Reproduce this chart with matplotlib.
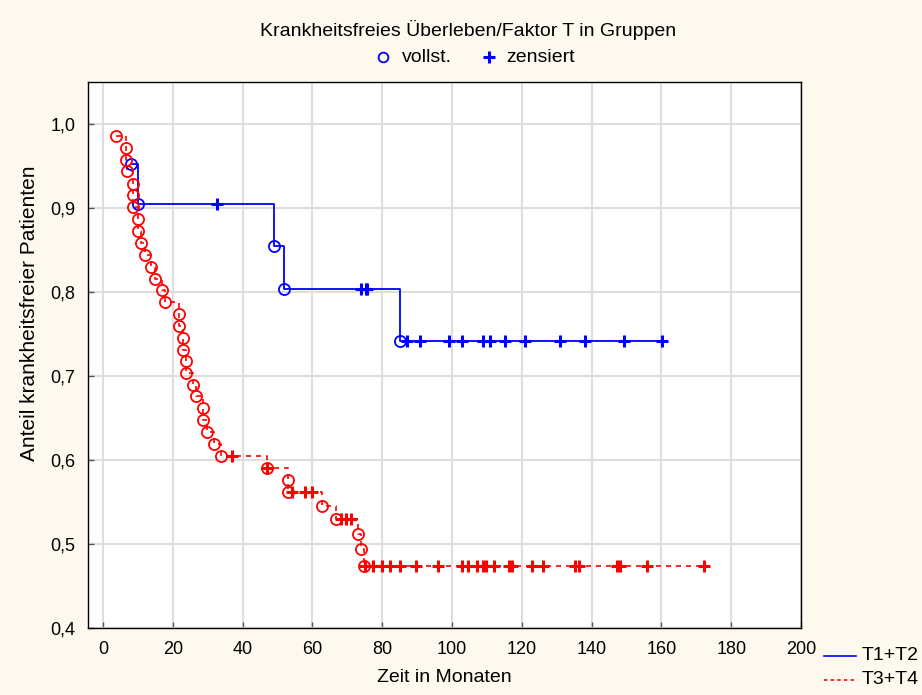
import numpy as np
import matplotlib
matplotlib.use("Agg")
import matplotlib.pyplot as plt
from matplotlib.lines import Line2D
from matplotlib.ticker import FixedLocator, FuncFormatter

plt.rcParams['font.family'] = ['Liberation Sans', 'DejaVu Sans']

# Kaplan-Meier steps: time of each event and survival right after it
t12_events = [7.9, 9.9, 48.9, 52.0, 85.1]
t12_surv = [0.952, 0.905, 0.855, 0.804, 0.742]
t12_censored = [32.8, 74.0, 75.3, 75.6, 87.0, 90.8, 99.0, 102.8, 109.0, 110.9,
                115.2, 121.0, 131.0, 138.2, 149.2, 160.2]

t34_events = [3.7, 6.5, 6.6, 7.0, 8.6, 8.7, 8.7, 9.9, 9.9, 11.0, 11.9, 13.8,
              14.8, 17.0, 17.7, 21.8, 21.8, 22.8, 22.8, 23.7, 23.7, 25.9, 26.7,
              28.7, 28.7, 29.8, 31.9, 33.7, 47.0, 52.9, 53.0, 62.8, 66.8, 73.0,
              73.9, 74.8]
t34_surv = [0.986, 0.971, 0.957, 0.944, 0.929, 0.915, 0.901, 0.887, 0.873,
            0.858, 0.844, 0.830, 0.816, 0.802, 0.788, 0.774, 0.760, 0.745,
            0.731, 0.718, 0.704, 0.689, 0.676, 0.662, 0.648, 0.633, 0.619,
            0.605, 0.591, 0.576, 0.562, 0.545, 0.530, 0.512, 0.494, 0.474]
t34_censored = [37.0, 47.0, 54.2, 57.8, 59.8, 68.3, 69.7, 71.1, 75.0, 77.5,
                80.0, 82.2, 85.0, 89.8, 96.1, 102.8, 104.7, 107.1, 109.0, 109.6,
                111.9, 116.2, 117.2, 122.9, 126.2, 135.3, 136.3, 147.3, 148.1,
                155.9, 172.2]

group_labels = ["T1+T2", "T3+T4"]
x_ticks = [0, 20, 40, 60, 80, 100, 120, 140, 160, 180, 200]
y_ticks = [0.4, 0.5, 0.6, 0.7, 0.8, 0.9, 1.0]

BLUE = "#0000ff"
RED = "#ff0000"
BG = "#fdf9ef"

W, H = 922, 695
fig = plt.figure(figsize=(W / 100, H / 100), dpi=100, facecolor=BG)
ax = fig.add_axes([88 / W, 1 - 628 / H, (801 - 88) / W, (628 - 82) / H])
ax.set_facecolor("white")


def level_at(times, surv, t):
    idx = np.searchsorted(times, t, side="right") - 1
    return np.asarray(surv)[idx]


def draw_group(events, surv, censored, color, ls, lw):
    ev = np.asarray(events)
    sv = np.asarray(surv)
    xs = np.append(ev, max(censored))
    ys = np.append(sv, sv[-1])
    ax.step(xs, ys, where="post", color=color, lw=lw, linestyle=ls, zorder=3)
    ax.plot(ev, sv, linestyle="none", marker="o", markersize=8,
            markerfacecolor="none", markeredgecolor=color, mew=1.3, zorder=4)
    cy = [level_at(ev, sv, c) for c in censored]
    ax.plot(censored, cy, linestyle="none", marker="+", markersize=8,
            color=color, mew=2.2, zorder=5)


draw_group(t12_events, t12_surv, t12_censored, BLUE, "-", 1.3)
draw_group(t34_events, t34_surv, t34_censored, RED, (0, (3, 3)), 1.2)

ax.set_xlim(-4.3, 200)
ax.set_ylim(0.4, 1.05)
ax.xaxis.set_major_locator(FixedLocator(x_ticks))
ax.yaxis.set_major_locator(FixedLocator(y_ticks))
ax.yaxis.set_major_formatter(FuncFormatter(lambda v, p: f"{v:.1f}".replace(".", ",")))
ax.grid(True, color="#dedede", lw=1.5, zorder=0)
ax.set_axisbelow(True)
ax.tick_params(direction="in", length=4, width=1, color="#555555",
               labelsize=13, pad=9)
for sp in ax.spines.values():
    sp.set_color("black")
    sp.set_linewidth(1.0)

ax.set_xlabel("Zeit in Monaten", fontsize=14, labelpad=8)
fig.text(30 / W, 1 - 313 / H, "Anteil krankheitsfreier Patienten",
         rotation=90, ha="center", va="center", fontsize=15)

fig.text(0.508, 1 - 30 / H, "Krankheitsfreies Überleben/Faktor T in Gruppen",
         ha="center", va="center", fontsize=14)

# marker key under the title
ly = 1 - 57 / H
fig.add_artist(Line2D([383 / W], [ly], marker="o", markersize=7,
                      markerfacecolor="none", markeredgecolor=BLUE, mew=1.3,
                      linestyle="none"))
fig.text(402 / W, ly, "vollst.", ha="left", va="center", fontsize=14)
fig.add_artist(Line2D([489 / W], [ly], marker="+", markersize=8,
                      color=BLUE, mew=2.2, linestyle="none"))
fig.text(506 / W, ly, "zensiert", ha="left", va="center", fontsize=14)

# group key at the lower right
for i, (lab, col, ls) in enumerate(zip(group_labels, [BLUE, RED],
                                       ["-", (0, (2, 2))])):
    yy = 1 - (656 + 24 * i) / H
    fig.add_artist(Line2D([824 / W, 856 / W], [yy, yy], color=col, lw=1.2,
                          linestyle=ls))
    fig.text(862 / W, yy + 1 / H, lab, ha="left", va="center", fontsize=14)

fig.savefig("out.png", dpi=100, facecolor=BG)
